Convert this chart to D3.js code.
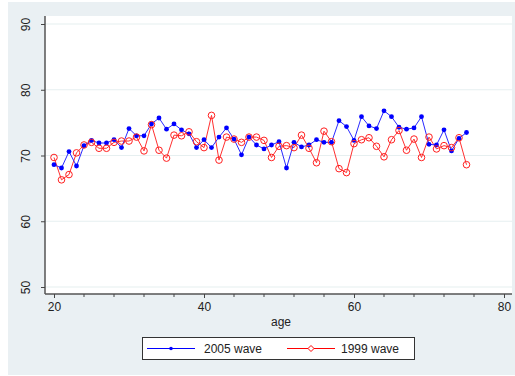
<!DOCTYPE html>
<html><head><meta charset="utf-8">
<script src="https://cdn.jsdelivr.net/npm/d3@7"></script>
<style>body{margin:0;background:#fff}svg{display:block}text{font-family:"Liberation Sans",Arial,sans-serif}</style>
</head><body><svg id="c" width="515" height="376"></svg>
<script>
const ages = d3.range(20, 76);
const wave2005 = [68.6,68.1,70.6,68.4,71.5,72.3,71.9,71.9,72.4,71.2,74.1,73.0,73.0,74.8,75.7,74.0,74.8,73.9,73.3,71.2,72.4,71.2,72.8,74.2,72.5,70.1,72.8,71.6,71.0,71.6,72.1,68.1,72.0,71.3,71.6,72.4,72.0,72.0,75.3,74.4,72.3,75.9,74.5,74.1,76.8,75.9,74.3,74.0,74.2,75.9,71.7,71.6,73.9,70.7,72.6,73.5];
const wave1999 = [69.7,66.3,67.1,70.4,71.6,72.0,71.1,71.1,72.0,72.2,72.2,72.8,70.7,74.7,70.8,69.6,73.1,73.0,73.6,72.1,71.2,76.1,69.3,72.8,72.5,72.0,72.8,72.8,72.3,69.7,71.4,71.5,71.2,73.1,71.1,68.9,73.7,72.1,68.0,67.4,71.8,72.4,72.7,71.4,69.8,72.4,73.8,70.8,72.5,69.7,72.8,71.0,71.5,71.2,72.7,68.6];
const xTicks = [20, 40, 60, 80];
const xMinor = d3.range(24, 80, 4).filter(v => v % 20 !== 0);
const yTicks = [50, 60, 70, 80, 90];
const seriesNames = ["2005 wave", "1999 wave"];

const svg = d3.select("#c");
svg.append("rect").attr("x", 8).attr("y", 2).attr("width", 507).attr("height", 373).attr("fill", "#eaf0f3");
const L = 45, R = 512, T = 16, B = 294;
svg.append("rect").attr("x", L).attr("y", T).attr("width", R - L).attr("height", B - T).attr("fill", "#fff");

const x = d3.scaleLinear().domain([20, 80]).range([54, 504]);
const y = d3.scaleLinear().domain([50, 90]).range([287, 24]);

// gridlines
svg.append("g").selectAll("line").data(yTicks).join("line")
  .attr("x1", L).attr("x2", R).attr("y1", d => y(d)).attr("y2", d => y(d))
  .attr("stroke", "#e6eff0").attr("stroke-width", 1.2);

// y axis
const ya = svg.append("g").attr("transform", `translate(${L},0)`)
  .call(d3.axisLeft(y).tickValues(yTicks).tickSize(4).tickPadding(0).tickFormat(d3.format("d")));
ya.select(".domain").attr("stroke", "#555").attr("stroke-width", 1.5).attr("d", `M0,${T}V${B}`);
ya.selectAll(".tick line").attr("stroke", "#444");
ya.selectAll(".tick text").attr("transform", "rotate(-90)").attr("x", 0).attr("y", -15)
  .attr("text-anchor", "middle").attr("dy", "0").attr("font-size", 12).attr("fill", "#222");

// x axis
const xa = svg.append("g").attr("transform", `translate(0,${B})`)
  .call(d3.axisBottom(x).tickValues(xTicks).tickSize(4).tickPadding(4).tickFormat(d3.format("d")));
xa.select(".domain").attr("stroke", "#555").attr("stroke-width", 1.5).attr("d", `M${L},0H${R}`);
xa.selectAll(".tick line").attr("stroke", "#444");
xa.selectAll(".tick text").attr("font-size", 12).attr("fill", "#222");
svg.append("g").selectAll("line").data(xMinor).join("line")
  .attr("x1", d => x(d)).attr("x2", d => x(d)).attr("y1", B).attr("y2", B + 3).attr("stroke", "#444");

svg.append("text").attr("x", 281).attr("y", 326).attr("text-anchor", "middle")
  .attr("font-size", 12).attr("fill", "#222").text("age");

const line = d3.line().x((d, i) => x(ages[i])).y(d => y(d));
svg.append("path").datum(wave1999).attr("d", line).attr("fill", "none").attr("stroke", "#ff3030").attr("stroke-width", 1);
svg.append("path").datum(wave2005).attr("d", line).attr("fill", "none").attr("stroke", "#2a2aff").attr("stroke-width", 1);
svg.append("g").selectAll("circle").data(wave2005).join("circle")
  .attr("cx", (d, i) => x(ages[i])).attr("cy", d => y(d)).attr("r", 2.4).attr("fill", "#0000ff");
svg.append("g").selectAll("circle").data(wave1999).join("circle")
  .attr("cx", (d, i) => x(ages[i])).attr("cy", d => y(d)).attr("r", 3.3)
  .attr("fill", "none").attr("stroke", "#ff2020").attr("stroke-width", 1);

// legend
const lg = svg.append("g");
lg.append("rect").attr("x", 142.5).attr("y", 337.5).attr("width", 272).attr("height", 22)
  .attr("fill", "#fff").attr("stroke", "#333").attr("stroke-width", 1);
lg.append("line").attr("x1", 147).attr("x2", 195).attr("y1", 348.5).attr("y2", 348.5).attr("stroke", "#0000ff");
lg.append("circle").attr("cx", 171).attr("cy", 348.5).attr("r", 1.8).attr("fill", "#0000ff");
lg.append("text").attr("x", 204).attr("y", 353).attr("font-size", 12).attr("fill", "#222").text(seriesNames[0]);
lg.append("line").attr("x1", 287).attr("x2", 335).attr("y1", 348.5).attr("y2", 348.5).attr("stroke", "#ff0000");
lg.append("path").attr("d", "M311,345.5L314,348.5L311,351.5L308,348.5Z").attr("fill", "#fff").attr("stroke", "#ff0000");
lg.append("text").attr("x", 341).attr("y", 353).attr("font-size", 12).attr("fill", "#222").text(seriesNames[1]);
</script></body></html>
